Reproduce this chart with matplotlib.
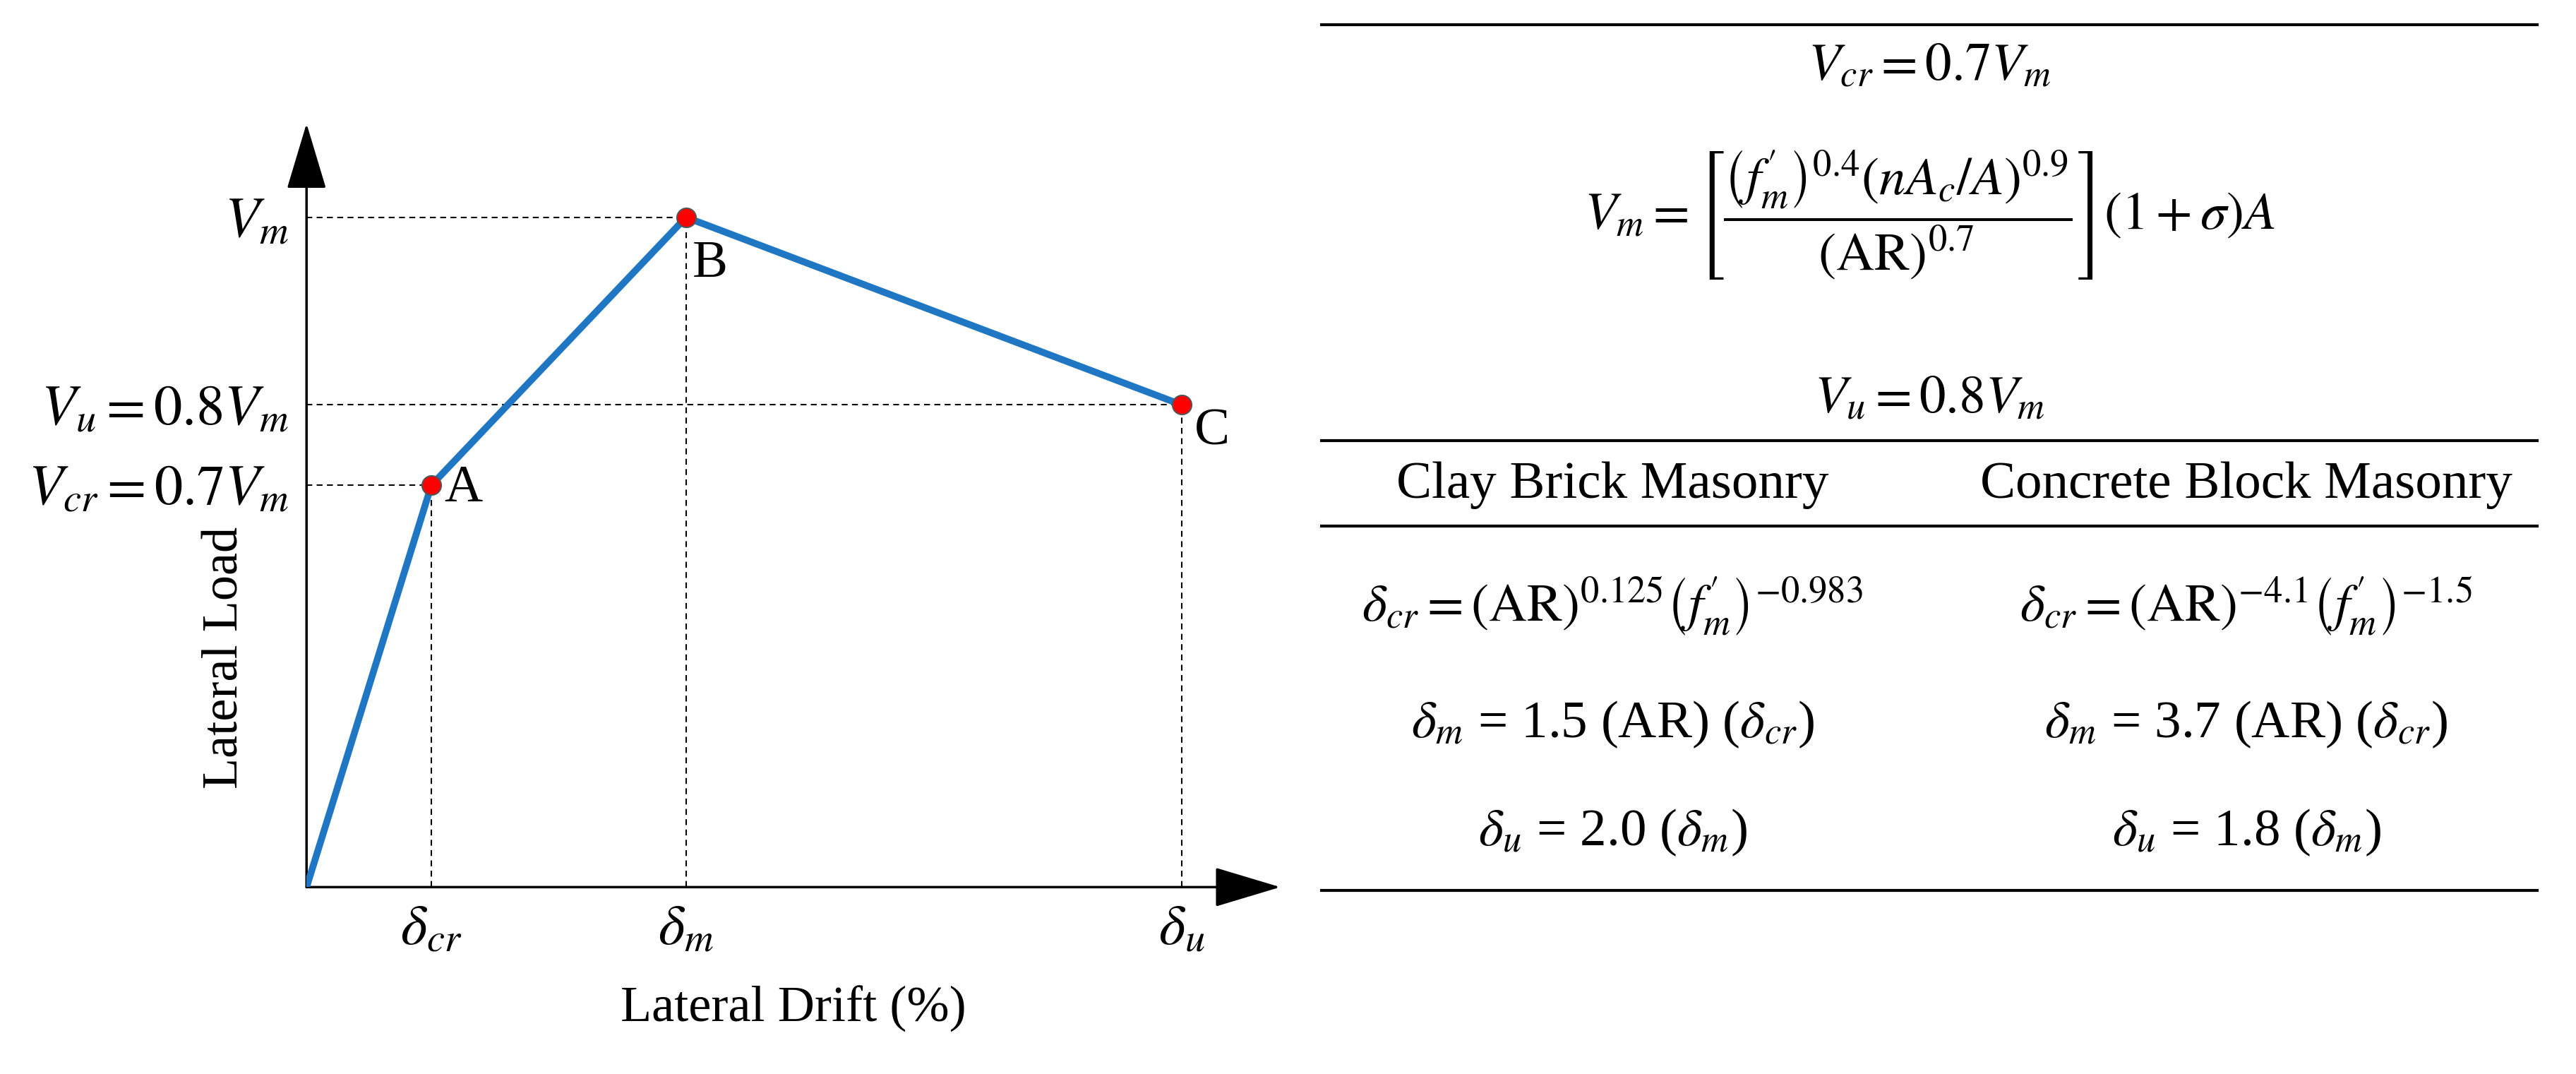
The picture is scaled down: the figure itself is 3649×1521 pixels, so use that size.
import matplotlib
matplotlib.use("Agg")
import matplotlib.pyplot as plt

plt.rcParams["font.family"] = ["Liberation Serif", "DejaVu Serif"]
plt.rcParams["mathtext.fontset"] = "stix"

# key points of the backbone curve (axes in drawing units)
pt_names = ["O", "A", "B", "C"]
drift = [0.0, 1.0, 3.04, 7.01]
load = [0.0, 0.60, 1.0, 0.72]
xtick_labels = [r"$\delta_{cr}$", r"$\delta_m$", r"$\delta_u$"]
ytick_labels = [r"$V_{cr}=0.7V_m$", r"$V_u=0.8V_m$", r"$V_m$"]

fig = plt.figure(figsize=(36.49, 15.21), dpi=100)
ax = fig.add_axes([0.119, 0.174, 0.378, 0.711])
ax.set_xlim(0, 7.8)
ax.set_ylim(0, 1.14)
for s in ax.spines.values():
    s.set_visible(False)
arrow = dict(arrowstyle="-|>,head_length=2.0,head_width=0.6", mutation_scale=30,
             color="black", lw=2.5, shrinkA=0, shrinkB=0)
ax.annotate("", xy=(7.8, 0), xytext=(0, 0), arrowprops=arrow, annotation_clip=False)
ax.annotate("", xy=(0, 1.14), xytext=(0, 0), arrowprops=arrow, annotation_clip=False)

# dashed guides
for x, y in zip(drift[1:], load[1:]):
    ax.plot([x, x], [0, y], ls=(0, (4, 3)), color="black", lw=1.5)
    ax.plot([0, x], [y, y], ls=(0, (4, 3)), color="black", lw=1.5)

ax.plot(drift, load, color="#1f77c4", lw=7, solid_capstyle="round", zorder=3)
ax.scatter(drift[1:], load[1:], s=380, color="red", edgecolor="#555555", lw=1.5, zorder=4)
ax.text(drift[1] + 0.1, load[1] - 0.005, "A", fontsize=54, va="center", ha="left")
ax.text(drift[2] + 0.05, load[2] - 0.07, "B", fontsize=54, va="center", ha="left")
ax.text(drift[3] + 0.1, load[3] - 0.04, "C", fontsize=54, va="center", ha="left")

ax.set_xticks(drift[1:])
ax.set_xticklabels(xtick_labels, fontsize=58)
ax.set_yticks([load[1], load[3], load[2]])
ax.set_yticklabels(ytick_labels, fontsize=58)
ax.tick_params(length=0, pad=18)
ax.set_xlabel("Lateral Drift (%)", fontsize=52, labelpad=30)
ax.set_ylabel("Lateral Load", fontsize=52)
ax.yaxis.set_label_coords(-0.06, 0.3)

# right-hand table
x0, x1 = 0.513, 0.985
def hline(y):
    fig.add_artist(plt.Line2D([x0, x1], [y, y], color="black", lw=3, transform=fig.transFigure))
for y in [0.977, 0.590, 0.510, 0.171]:
    hline(y)
xm = (x0 + x1) / 2
fs = 54
fig.text(xm, 0.937, r"$V_{cr}=0.7V_m$", fontsize=fs, ha="center", va="center")
fig.text(xm, 0.80, r"$V_m=\left[\dfrac{\left(f_m^{\prime}\right)^{0.4}\left(nA_c/A\right)^{0.9}}"
         r"{\left(\mathrm{AR}\right)^{0.7}}\right]\left(1+\sigma\right)A$",
         fontsize=fs, ha="center", va="center")
fig.text(xm, 0.627, r"$V_u=0.8V_m$", fontsize=fs, ha="center", va="center")
c1, c2 = 0.626, 0.872
fig.text(c1, 0.548, "Clay Brick Masonry", fontsize=fs, ha="center", va="center")
fig.text(c2, 0.548, "Concrete Block Masonry", fontsize=fs, ha="center", va="center")
rows_left = [r"$\delta_{cr}=\left(\mathrm{AR}\right)^{0.125}\left(f_m^{\prime}\right)^{-0.983}$",
             r"$\delta_m$ = 1.5 (AR) ($\delta_{cr}$)", r"$\delta_u$ = 2.0 ($\delta_m$)"]
rows_right = [r"$\delta_{cr}=\left(\mathrm{AR}\right)^{-4.1}\left(f_m^{\prime}\right)^{-1.5}$",
              r"$\delta_m$ = 3.7 (AR) ($\delta_{cr}$)", r"$\delta_u$ = 1.8 ($\delta_m$)"]
for y, a, b in zip([0.435, 0.325, 0.225], rows_left, rows_right):
    fig.text(c1, y, a, fontsize=fs, ha="center", va="center")
    fig.text(c2, y, b, fontsize=fs, ha="center", va="center")

fig.savefig("out.png", dpi=100)
